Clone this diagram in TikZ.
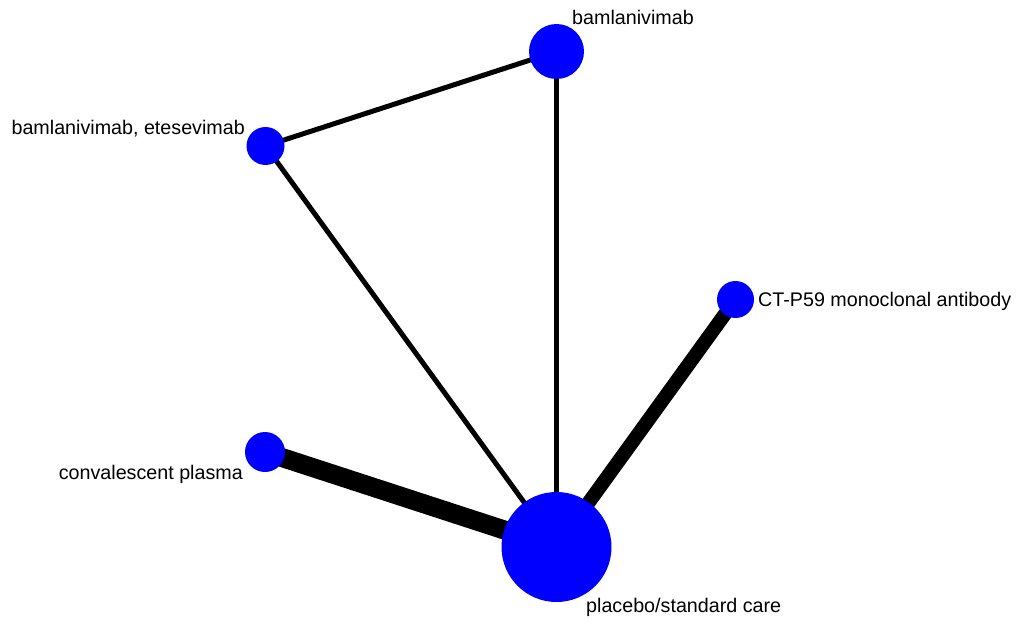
\documentclass[tikz,border=0pt]{standalone}
\usepackage{fontspec}
\setmainfont{Liberation Sans}
\pgfdeclarelayer{edges}
\pgfsetlayers{edges,main}
\begin{document}
\begin{tikzpicture}[x=1pt,y=-1pt,
  trt/.style={circle,fill=blue,draw=none,inner sep=0pt,minimum size=#1},
  lbl/.style={inner sep=0pt,font=\fontsize{19.7pt}{22pt}\selectfont},
  link/.style={draw=black,line width=#1,line cap=butt}]
\useasboundingbox (0,0) rectangle (1019,623);

% treatments, circle size by sample size
\node[trt=55pt]  (bam)  at (556.5,51.5)  {};
\node[trt=38pt]  (be)   at (265.5,146) {};
\node[trt=37pt]  (ct)   at (735.5,299.5) {};
\node[trt=40pt]  (cp)   at (265,452) {};
\node[trt=110pt] (pl)   at (556.5,547) {};

% labels
\node[lbl,anchor=base west] (lbam) at (572,25)  {bamlanivimab};
\node[lbl,anchor=base east] (lbe)  at (245,135) {bamlanivimab, etesevimab};
\node[lbl,anchor=base west] (lct)  at (758,306) {CT-P59 monoclonal antibody};
\node[lbl,anchor=base east] (lcp)  at (243,479) {convalescent plasma};
\node[lbl,anchor=base west] (lpl)  at (586,612) {placebo/standard care};

% direct comparisons, width by number of trials
\begin{pgfonlayer}{edges}
  \draw[link=5pt]  (be.center) -- (bam.center);
  \draw[link=5pt]  (bam.center) -- (pl.center);
  \draw[link=5pt]  (be.center) -- (pl.center);
  \draw[link=14pt] (ct.center) -- (pl.center);
  \draw[link=19pt] (cp.center) -- (pl.center);
\end{pgfonlayer}
\end{tikzpicture}
\end{document}
